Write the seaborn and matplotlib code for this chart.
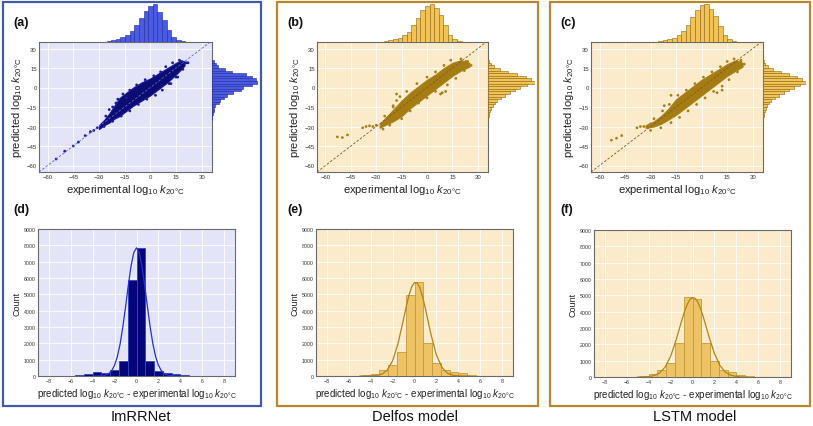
import matplotlib
matplotlib.use('Agg')
import matplotlib.pyplot as plt
import seaborn as sns
import numpy as np
import pandas as pd
from matplotlib.patches import Rectangle

# ---------------- data ----------------
models = ["ImRRNet", "Delfos model", "LSTM model"]
panel_top = ["(a)", "(b)", "(c)"]
panel_bot = ["(d)", "(e)", "(f)"]
scatter_ticks = [-60, -45, -30, -15, 0, 15, 30]
hist_xticks = [-8, -6, -4, -2, 0, 2, 4, 6, 8]
hist_yticks = [0, 1000, 2000, 3000, 4000, 5000, 6000, 7000, 8000, 9000]

# dense point cloud envelopes (experimental x, predicted lower/upper)
env_x_a = [-30, -27, -24, -21, -18, -15, -10, -5, 0, 5, 10, 15, 18, 20]
env_lo_a = [-32, -29, -27, -24, -22, -19, -14, -10, -6, -1, 4, 10, 14, 17]
env_hi_a = [-29, -25, -20, -14, -8, -5, 0, 4, 7, 11, 15, 19, 21, 20]
env_x_b = [-28, -25, -20, -15, -10, -5, 0, 5, 10, 15, 20, 25]
env_lo_b = [-31, -29, -26, -22, -16, -11, -6, -1, 4, 9, 13, 16]
env_hi_b = [-28, -24, -17, -10, -4, 1, 6, 10, 15, 19, 21, 19]
env_x_c = [-33, -28, -24, -20, -15, -10, -5, 0, 5, 10, 15, 20, 24]
env_lo_c = [-31, -30, -28, -25, -21, -16, -11, -6, -1, 4, 9, 13, 16]
env_hi_c = [-29, -26, -22, -17, -9, -4, 1, 6, 10, 14, 18, 21, 19]

# sparse points outside / on the rim of the dense cloud
out_x_a = [-55, -50, -45, -42, -38, -35, -33, -31, -24, -20, 12, 16, 22,
           -26, -22, -19, -16, -12, -8, -3, 2, 6, 9, 13, 17, 21, 19, 15, 11, 7, 3,
           -2, -7, -12, -17, -22, -27, -14, -20]
out_y_a = [-55, -49, -45, -42, -37, -34, -33, -31, -17, -12, 3, 8, 19,
           -22, -15, -9, -5, -2, 2, 6, 9, 12, 16, 19, 21, 19, 14, 8, 3, -2, -6,
           -9, -13, -18, -22, -26, -30, -8, -12]
out_x_b = [-53, -50, -47, -38, -36, -34, -32, -30, -20, -18, 8, 11, 23,
           -25, -20, -16, -12, -6, 0, 5, 10, 14, 20, 24, 26, 22, 17, 12, 9, 5,
           0, -5, -10, -15, -22, -26, -18]
out_y_b = [-38, -38.5, -36.5, -31, -30, -29.5, -30, -29, -15, -5, -5, -3, 20,
           -22, -14, -7, -3, 3, 8, 12, 17, 21, 22, 20, 17, 13, 7, 2, -4, -3,
           -8, -12, -18, -24, -29, -32, -10]
out_x_c = [-53, -50, -47, -38, -36, -34, -30, -22, -18, 9, 12, 23,
           -28, -23, -19, -14, -9, -4, 1, 6, 11, 15, 19, 23, 25, 21, 16, 12, 7,
           2, -3, -8, -13, -18, -24, -30]
out_y_c = [-40.5, -39, -37, -31, -30, -30, -28, -14, -6, -4, -2, 20,
           -24, -18, -13, -6, -2, 3, 8, 12, 16, 20, 22, 21, 18, 12, 6, 1, -3,
           -8, -13, -18, -23, -27, -31, -33]

# marginal histogram on experimental axis (relative heights)
mx_centers = [-24.2, -21.5, -18.8, -16.1, -13.4, -10.7, -8.0, -5.3, -2.6, 0.1, 2.8,
              5.5, 8.2, 10.9, 13.6, 16.3, 19.0]
mx_a = [4, 7, 10, 14, 22, 33, 50, 70, 92, 108, 113, 88, 65, 35, 15, 7, 3]
mx_b = [3, 5, 8, 12, 20, 30, 50, 72, 95, 108, 113, 100, 80, 50, 22, 8, 3]
mx_c = [3, 5, 8, 13, 20, 32, 52, 75, 95, 110, 113, 98, 78, 48, 20, 8, 3]

# marginal histogram on predicted axis (relative lengths)
my_centers = [-24, -22, -20, -18, -16, -14, -12, -10, -8, -6, -4, -2, 0, 2, 4, 6,
              8, 10, 12, 14, 16, 18, 20]
my_a = [1, 1, 3, 5, 7, 10, 20, 25, 35, 45, 62, 85, 92, 118, 137, 130, 118, 100, 60, 40, 18, 12, 5]
my_b = [1, 2, 4, 6, 9, 14, 20, 28, 38, 50, 65, 80, 95, 115, 140, 128, 112, 85, 60, 35, 18, 8, 3]
my_c = [1, 2, 4, 6, 9, 13, 19, 27, 37, 50, 66, 82, 98, 118, 138, 126, 110, 84, 58, 33, 17, 8, 3]

# residual histograms (bin centers, counts)
res_centers = [-6.8, -6.0, -5.2, -4.4, -3.6, -2.8, -2.0, -1.2, -0.4, 0.4, 1.2, 2.0,
               2.8, 3.6, 4.4, 5.2, 6.0, 6.8]
res_d = [10, 20, 50, 120, 250, 200, 380, 900, 5900, 7850, 900, 320, 180, 100, 60, 30, 15, 10]
res_e = [5, 10, 20, 60, 150, 350, 700, 1500, 4950, 5750, 2000, 780, 350, 230, 180, 60, 30, 10]
res_f = [5, 10, 30, 80, 200, 430, 830, 2100, 4870, 4750, 2100, 950, 430, 280, 120, 40, 15, 5]

# fitted normal curves
curve_x_d = [-4, -3.5, -3, -2.75, -2.5, -2.25, -2, -1.75, -1.5, -1.25, -1, -0.75, -0.5, -0.25, 0,
             0.25, 0.5, 0.75, 1, 1.25, 1.5, 1.75, 2, 2.25, 2.5, 2.75, 3, 3.5, 4]
curve_y_d = [0, 4, 30, 74, 165, 345, 664, 1186, 1957, 2991, 4234, 5548, 6728, 7553, 7850,
             7553, 6728, 5548, 4234, 2991, 1957, 1186, 664, 345, 165, 74, 30, 4, 0]
curve_x_ef = [-5, -4.5, -4, -3.5, -3, -2.5, -2, -1.5, -1, -0.75, -0.5, -0.25, 0, 0.25, 0.5,
              0.75, 1, 1.5, 2, 2.5, 3, 3.5, 4, 4.5, 5]
curve_y_e = [0, 1, 6, 27, 109, 352, 932, 1996, 3488, 4266, 4955, 5466, 5726, 5697, 5382,
             4829, 4115, 2558, 1295, 532, 178, 48, 11, 2, 0]
curve_y_f = [1, 6, 26, 86, 248, 608, 1267, 2258, 3422, 3968, 4420, 4732, 4866, 4808, 4564,
             4164, 3648, 2486, 1443, 713, 300, 108, 33, 9, 2]

# ---------------- style ----------------
sns.set_theme(style="darkgrid", rc={"grid.color": "white", "grid.linewidth": 0.6})
plt.rcParams['font.family'] = ['Liberation Sans', 'DejaVu Sans']
plt.rcParams['mathtext.fontset'] = 'custom'
plt.rcParams['mathtext.rm'] = 'Liberation Sans'
plt.rcParams['mathtext.it'] = 'Liberation Sans:italic'
plt.rcParams['mathtext.bf'] = 'Liberation Sans:bold'

W, H = 813, 427
fig = plt.figure(figsize=(W / 100, H / 100), dpi=100)


def px(x0, y0, x1, y1):
    return [x0 / W, 1 - y1 / H, (x1 - x0) / W, (y1 - y0) / H]


def edges_from(centers):
    c = np.asarray(centers, float)
    w = float(np.diff(c).mean())
    return [float(v) for v in np.append(c - w / 2, c[-1] + w / 2)]


themes = [
    dict(frame="#3E5CA8", face="#E4E4F8", cloud="#0C0C72", pts="#1A1A9A", diag="#5566D0",
         mfill="#4A5AE2", medge="#1E2A9A", hfill="#05057A", hedge="#3344BB", curve="#2233CC"),
    dict(frame="#B8882A", face="#FCEBCB", cloud="#A57C14", pts="#A88018", diag="#7A5E1C",
         mfill="#F2C354", medge="#8A6616", hfill="#EEC366", hedge="#C49A3A", curve="#B08416"),
    dict(frame="#B8882A", face="#FCEBCB", cloud="#A57C14", pts="#A88018", diag="#7A5E1C",
         mfill="#F2C354", medge="#8A6616", hfill="#EEC366", hedge="#C49A3A", curve="#B08416"),
]

frames = [(3, 3, 261, 407), (277, 3, 538, 407), (550, 3, 810, 407)]
main_pos = [(39, 43, 212, 173), (317, 43, 488, 173), (591, 43, 763, 173)]
rmarg_r = [258, 535, 806]
hist_pos = [(38, 230, 235, 377), (316, 230, 513, 377), (594, 231, 791, 378)]
title_x = [141, 415, 695]
label_x = [13, 287, 560]

envs = [(env_x_a, env_lo_a, env_hi_a), (env_x_b, env_lo_b, env_hi_b), (env_x_c, env_lo_c, env_hi_c)]
outs = [(out_x_a, out_y_a), (out_x_b, out_y_b), (out_x_c, out_y_c)]
mxs = [mx_a, mx_b, mx_c]
mys = [my_a, my_b, my_c]
ress = [res_d, res_e, res_f]
curves = [(curve_x_d, curve_y_d), (curve_x_ef, curve_y_e), (curve_x_ef, curve_y_f)]

xlab = r'experimental log$_{10}$ $k_{\mathrm{20°C}}$'
ylab = r'predicted log$_{10}$ $k_{\mathrm{20°C}}$'
rlab = r'predicted log$_{10}$ $k_{\mathrm{20°C}}$ - experimental log$_{10}$ $k_{\mathrm{20°C}}$'

for i in range(3):
    th = themes[i]
    # frame
    x0, y0, x1, y1 = frames[i]
    fig.add_artist(Rectangle((x0 / W, 1 - y1 / H), (x1 - x0) / W, (y1 - y0) / H,
                             transform=fig.transFigure, fill=False,
                             edgecolor=th["frame"], linewidth=1.6))

    # ---- main scatter ----
    mx0, my0, mx1, my1 = main_pos[i]
    ax = fig.add_axes(px(mx0, my0, mx1, my1))
    ax.set_facecolor(th["face"])
    ex, lo, hi = envs[i]
    ax.fill_between(ex, lo, hi, color=th["cloud"], linewidth=0.8, edgecolor=th["pts"], zorder=3)
    ox, oy = outs[i]
    sns.scatterplot(data=pd.DataFrame({"x": ox, "y": oy}), x="x", y="y", ax=ax, s=4,
                    color=th["pts"], edgecolor="none", zorder=4)
    ax.axline((0, 0), slope=1, ls=(0, (3, 2)), lw=0.6, color=th["diag"], zorder=5)
    ax.set_xlim(-65, 36)
    ax.set_ylim(-65, 35)
    ax.set_xticks(scatter_ticks)
    ax.set_yticks(scatter_ticks)
    ax.tick_params(labelsize=4.3, pad=1.5, length=0, colors="#333333")
    ax.set_xlabel(xlab, fontsize=8, labelpad=2, color="#222222")
    ax.set_ylabel(ylab, fontsize=8, labelpad=2, color="#222222")
    for s in ax.spines.values():
        s.set_visible(True)
        s.set_color("#6A6A6A")
        s.set_linewidth(0.8)

    # ---- top marginal ----
    axt = fig.add_axes(px(mx0, 5, mx1, my0))
    dft = pd.DataFrame({"c": mx_centers, "w": mxs[i]})
    sns.histplot(data=dft, x="c", weights="w", bins=edges_from(mx_centers), ax=axt,
                 color=th["mfill"], edgecolor=th["medge"], linewidth=0.4, alpha=1)
    axt.set_xlim(-65, 36)
    axt.set_ylim(0, max(mxs[i]))
    axt.axis("off")

    # ---- right marginal ----
    axr = fig.add_axes(px(mx1, my0, rmarg_r[i], my1))
    dfr = pd.DataFrame({"c": my_centers, "w": mys[i]})
    sns.histplot(data=dfr, y="c", weights="w", bins=edges_from(my_centers), ax=axr,
                 color=th["mfill"], edgecolor=th["medge"], linewidth=0.4, alpha=1)
    axr.set_ylim(-65, 35)
    axr.set_xlim(0, max(mys[i]))
    axr.axis("off")

    # ---- residual histogram ----
    hx0, hy0, hx1, hy1 = hist_pos[i]
    axh = fig.add_axes(px(hx0, hy0, hx1, hy1))
    axh.set_facecolor(th["face"])
    dfh = pd.DataFrame({"c": res_centers, "w": ress[i]})
    sns.histplot(data=dfh, x="c", weights="w", bins=edges_from(res_centers), ax=axh,
                 color=th["hfill"], edgecolor=th["hedge"], linewidth=0.6, alpha=1, zorder=3)
    cx, cy = curves[i]
    sns.lineplot(data=pd.DataFrame({"x": cx, "y": cy}), x="x", y="y", ax=axh,
                 color=th["curve"], linewidth=0.9, zorder=4)
    axh.set_xlim(-9, 9)
    axh.set_ylim(0, 9000)
    axh.set_xticks(hist_xticks)
    axh.set_yticks(hist_yticks)
    axh.tick_params(labelsize=3.8, pad=1.5, length=0, colors="#333333")
    axh.set_xlabel(rlab, fontsize=7, labelpad=2, color="#222222")
    axh.set_ylabel("Count", fontsize=6.5, labelpad=2, color="#222222")
    for s in axh.spines.values():
        s.set_visible(True)
        s.set_color("#6A6A6A")
        s.set_linewidth(0.8)

    # labels
    fig.text(label_x[i] / W, 1 - 23 / H, panel_top[i], fontsize=9, fontweight="bold",
             va="center", ha="left", color="#111111")
    fig.text(label_x[i] / W, 1 - 210 / H, panel_bot[i], fontsize=9, fontweight="bold",
             va="center", ha="left", color="#111111")
    fig.text(title_x[i] / W, 1 - 417 / H, models[i], fontsize=10.5, va="center",
             ha="center", color="#111111")

fig.savefig("out.png", dpi=100, facecolor="white")
